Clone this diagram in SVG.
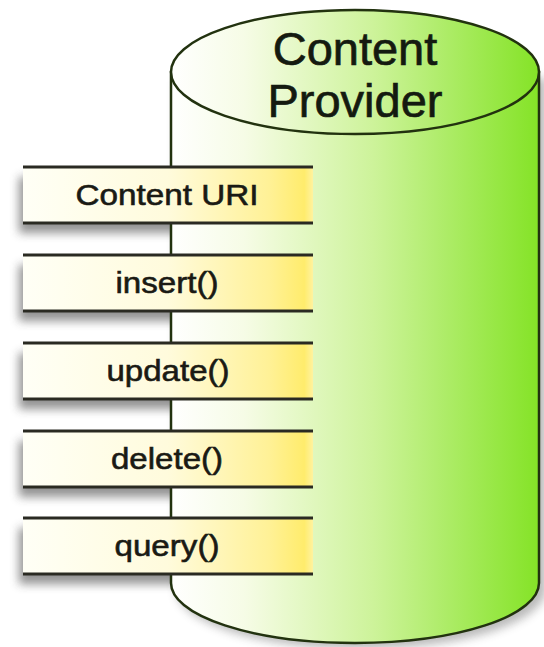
<svg xmlns="http://www.w3.org/2000/svg" width="544" height="647" viewBox="0 0 544 647">
  <defs>
    <linearGradient id="gBody" gradientUnits="userSpaceOnUse" x1="170" y1="0" x2="540" y2="0">
      <stop offset="0" stop-color="#ffffff"/>
      <stop offset="0.2" stop-color="#f6fce6"/>
      <stop offset="0.55" stop-color="#cdf39a"/>
      <stop offset="1" stop-color="#84e326"/>
    </linearGradient>
    <linearGradient id="gBox" gradientUnits="userSpaceOnUse" x1="23" y1="0" x2="313" y2="0">
      <stop offset="0" stop-color="#fffff6"/>
      <stop offset="0.5" stop-color="#fffbdc"/>
      <stop offset="0.85" stop-color="#fff196"/>
      <stop offset="0.97" stop-color="#ffec6c"/>
      <stop offset="1" stop-color="#fff2a0"/>
    </linearGradient>
    <filter id="blur" x="-20%" y="-20%" width="140%" height="160%">
      <feGaussianBlur stdDeviation="5"/>
    </filter>
    <style>
      .shadow { fill: #3a3a3a; opacity: 0.55; filter: url(#blur); }
      .box { fill: url(#gBox); }
      .edge { stroke: #2a2a22; stroke-width: 3; fill: none; }
      .lbl { font-family: "Liberation Sans", Arial, sans-serif; font-size: 30px; fill: #1a1a14; stroke: #1a1a14; stroke-width: 0.6; text-anchor: middle; }
      .title { font-family: "Liberation Sans", Arial, sans-serif; font-size: 47px; fill: #141a10; stroke: #141a10; stroke-width: 0.7; text-anchor: middle; }
    </style>
  </defs>

  <!-- shadows -->
  <path class="shadow" d="M176,78 V589 A185,60 0 0 0 546,589 V78 Z" style="opacity:0.35"/>
  <g id="shadows">
    <rect class="shadow" x="19" y="177" width="294" height="56"/>
    <rect class="shadow" x="19" y="265" width="294" height="56"/>
    <rect class="shadow" x="19" y="353" width="294" height="56"/>
    <rect class="shadow" x="19" y="441" width="294" height="56"/>
    <rect class="shadow" x="19" y="528" width="294" height="56"/>
  </g>

  <g id="content-provider">
    <path d="M171,72 V583 A184,60 0 0 0 539,583 V72 Z" fill="url(#gBody)" stroke="#22320f" stroke-width="2.5"/>
    <ellipse cx="355" cy="72" rx="184" ry="62" fill="url(#gBody)" stroke="#22320f" stroke-width="2.5"/>
    <text class="title" x="355" y="65">Content</text>
    <text class="title" x="355" y="117">Provider</text>
  </g>

  <g id="content-uri">
    <rect class="box" x="23" y="167" width="290" height="56"/>
    <line class="edge" x1="23" y1="167" x2="313" y2="167"/>
    <line class="edge" x1="23" y1="223" x2="313" y2="223"/>
    <text class="lbl" x="167" y="205" textLength="183" lengthAdjust="spacingAndGlyphs">Content URI</text>
  </g>

  <g id="insert">
    <rect class="box" x="23" y="255" width="290" height="56"/>
    <line class="edge" x1="23" y1="255" x2="313" y2="255"/>
    <line class="edge" x1="23" y1="311" x2="313" y2="311"/>
    <text class="lbl" x="167" y="293" textLength="103" lengthAdjust="spacingAndGlyphs">insert()</text>
  </g>

  <g id="update">
    <rect class="box" x="23" y="343" width="290" height="56"/>
    <line class="edge" x1="23" y1="343" x2="313" y2="343"/>
    <line class="edge" x1="23" y1="399" x2="313" y2="399"/>
    <text class="lbl" x="168" y="381" textLength="123" lengthAdjust="spacingAndGlyphs">update()</text>
  </g>

  <g id="delete">
    <rect class="box" x="23" y="431" width="290" height="56"/>
    <line class="edge" x1="23" y1="431" x2="313" y2="431"/>
    <line class="edge" x1="23" y1="487" x2="313" y2="487"/>
    <text class="lbl" x="167" y="469" textLength="112" lengthAdjust="spacingAndGlyphs">delete()</text>
  </g>

  <g id="query">
    <rect class="box" x="23" y="518" width="290" height="56"/>
    <line class="edge" x1="23" y1="518" x2="313" y2="518"/>
    <line class="edge" x1="23" y1="574" x2="313" y2="574"/>
    <text class="lbl" x="167" y="556" textLength="105" lengthAdjust="spacingAndGlyphs">query()</text>
  </g>
</svg>
